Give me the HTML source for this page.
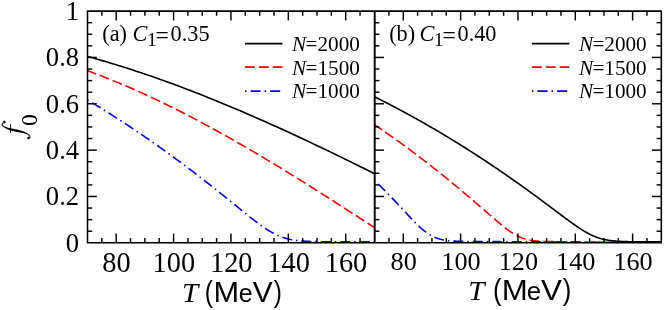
<!DOCTYPE html><html><head><meta charset="utf-8"><style>html,body{margin:0;padding:0;background:#fff;overflow:hidden}svg{display:block}</style></head><body><svg width="664" height="310" viewBox="0 0 664 310">
<rect width="664" height="310" fill="#fff"/>
<defs><clipPath id="ca"><rect x="87.5" y="11.1" width="287.2" height="232.9"/></clipPath><clipPath id="cb"><rect x="374.7" y="11.1" width="286.59999999999997" height="232.9"/></clipPath></defs>
<path d="M87.60 56.50 L92.46 57.84 L97.33 59.21 L102.19 60.61 L107.05 62.04 L111.91 63.49 L116.78 64.98 L121.64 66.49 L126.50 68.02 L131.36 69.59 L136.23 71.18 L141.09 72.80 L145.95 74.44 L150.82 76.10 L155.68 77.80 L160.54 79.51 L165.40 81.25 L170.27 83.02 L175.13 84.81 L179.99 86.62 L184.85 88.45 L189.72 90.31 L194.58 92.18 L199.44 94.08 L204.31 96.00 L209.17 97.94 L214.03 99.90 L218.89 101.89 L223.76 103.89 L228.62 105.91 L233.48 107.95 L238.34 110.00 L243.21 112.08 L248.07 114.17 L252.93 116.28 L257.79 118.41 L262.66 120.56 L267.52 122.72 L272.38 124.90 L277.25 127.09 L282.11 129.30 L286.97 131.52 L291.83 133.76 L296.70 136.01 L301.56 138.28 L306.42 140.56 L311.28 142.85 L316.15 145.16 L321.01 147.47 L325.87 149.80 L330.74 152.14 L335.60 154.50 L340.46 156.86 L345.32 159.23 L350.19 161.62 L355.05 164.01 L359.91 166.41 L364.77 168.82 L369.64 171.25 L374.50 173.67" fill="none" stroke="#000" stroke-width="1.6" clip-path="url(#ca)"/>
<path d="M87.60 70.82 L92.46 72.60 L97.33 74.42 L102.19 76.28 L107.05 78.19 L111.91 80.14 L116.78 82.12 L121.64 84.15 L126.50 86.22 L131.36 88.32 L136.23 90.46 L141.09 92.64 L145.95 94.85 L150.82 97.10 L155.68 99.39 L160.54 101.71 L165.40 104.06 L170.27 106.45 L175.13 108.87 L179.99 111.32 L184.85 113.80 L189.72 116.31 L194.58 118.85 L199.44 121.42 L204.31 124.02 L209.17 126.64 L214.03 129.30 L218.89 131.98 L223.76 134.68 L228.62 137.41 L233.48 140.16 L238.34 142.94 L243.21 145.74 L248.07 148.57 L252.93 151.41 L257.79 154.28 L262.66 157.17 L267.52 160.07 L272.38 163.00 L277.25 165.94 L282.11 168.90 L286.97 171.88 L291.83 174.88 L296.70 177.89 L301.56 180.91 L306.42 183.96 L311.28 187.01 L316.15 190.08 L321.01 193.16 L325.87 196.25 L330.74 199.35 L335.60 202.47 L340.46 205.59 L345.32 208.72 L350.19 211.86 L355.05 215.01 L359.91 218.17 L364.77 221.33 L369.64 224.50 L374.50 227.67" fill="none" stroke="#ff0000" stroke-width="1.6" clip-path="url(#ca)" stroke-dasharray="10 3.93" stroke-dashoffset="1.0"/>
<path d="M87.50 100.01 L88.70 100.73 L89.90 101.45 L91.11 102.17 L92.31 102.90 L93.51 103.62 L94.71 104.35 L95.91 105.08 L97.11 105.82 L98.32 106.55 L99.52 107.29 L100.72 108.03 L101.92 108.78 L103.12 109.52 L104.32 110.27 L105.53 111.02 L106.73 111.77 L107.93 112.52 L109.13 113.28 L110.33 114.04 L111.53 114.80 L112.74 115.56 L113.94 116.33 L115.14 117.10 L116.34 117.87 L117.54 118.64 L118.74 119.42 L119.95 120.19 L121.15 120.97 L122.35 121.75 L123.55 122.54 L124.75 123.32 L125.95 124.11 L127.16 124.90 L128.36 125.70 L129.56 126.49 L130.76 127.29 L131.96 128.09 L133.16 128.89 L134.37 129.69 L135.57 130.50 L136.77 131.31 L137.97 132.12 L139.17 132.93 L140.37 133.75 L141.58 134.57 L142.78 135.39 L143.98 136.21 L145.18 137.04 L146.38 137.86 L147.58 138.69 L148.79 139.52 L149.99 140.36 L151.19 141.19 L152.39 142.03 L153.59 142.87 L154.79 143.72 L156.00 144.56 L157.20 145.41 L158.40 146.26 L159.60 147.11 L160.80 147.97 L162.00 148.82 L163.21 149.68 L164.41 150.54 L165.61 151.41 L166.81 152.27 L168.01 153.14 L169.21 154.01 L170.42 154.88 L171.62 155.76 L172.82 156.64 L174.02 157.52 L175.22 158.40 L176.42 159.28 L177.63 160.17 L178.83 161.06 L180.03 161.95 L181.23 162.84 L182.43 163.74 L183.63 164.63 L184.84 165.53 L186.04 166.44 L187.24 167.34 L188.44 168.25 L189.64 169.15 L190.84 170.07 L192.05 170.98 L193.25 171.89 L194.45 172.81 L195.65 173.73 L196.85 174.65 L198.05 175.58 L199.26 176.51 L200.46 177.43 L201.66 178.36 L202.86 179.30 L204.06 180.23 L205.26 181.17 L206.47 182.11 L207.67 183.05 L208.87 184.00 L210.07 184.94 L211.27 185.89 L212.47 186.84 L213.68 187.79 L214.88 188.74 L216.08 189.70 L217.28 190.66 L218.48 191.62 L219.68 192.58 L220.89 193.54 L222.09 194.50 L223.29 195.47 L224.49 196.44 L225.69 197.41 L226.89 198.38 L228.10 199.35 L229.30 200.32 L230.50 201.30 L231.70 202.27 L232.90 203.25 L234.10 204.22 L235.31 205.20 L236.51 206.17 L237.71 207.15 L238.91 208.12 L240.11 209.10 L241.31 210.07 L242.52 211.05 L243.72 212.02 L244.92 212.98 L246.12 213.95 L247.32 214.91 L248.52 215.87 L249.73 216.82 L250.93 217.77 L252.13 218.72 L253.33 219.65 L254.53 220.58 L255.73 221.50 L256.94 222.41 L258.14 223.31 L259.34 224.19 L260.54 225.07 L261.74 225.93 L262.94 226.77 L264.15 227.60 L265.35 228.41 L266.55 229.20 L267.75 229.96 L268.95 230.71 L270.15 231.43 L271.36 232.13 L272.56 232.80 L273.76 233.44 L274.96 234.06 L276.16 234.64 L277.36 235.20 L278.57 235.73 L279.77 236.23 L280.97 236.70 L282.17 237.14 L283.37 237.55 L284.57 237.93 L285.78 238.29 L286.98 238.62 L288.18 238.92 L289.38 239.20 L290.58 239.46 L291.78 239.69 L292.99 239.91 L294.19 240.10 L295.39 240.28 L296.59 240.44 L297.79 240.59 L298.99 240.72 L300.20 240.84 L301.40 240.95 L302.60 241.04 L303.80 241.13 L305.00 241.21 L306.20 241.28 L307.41 241.34 L308.61 241.40 L309.81 241.45 L311.01 241.49 L312.21 241.53 L313.41 241.57 L314.62 241.60 L315.82 241.63 L317.02 241.65 L318.22 241.68 L319.42 241.70 L320.62 241.71 L321.83 241.73 L323.03 241.74 L324.23 241.76 L325.43 241.77 L326.63 241.78 L327.83 241.78 L329.04 241.79 L330.24 241.80 L331.44 241.80 L332.64 241.81 L333.84 241.81 L335.04 241.82 L336.25 241.82 L337.45 241.83 L338.65 241.83 L339.85 241.83 L341.05 241.83 L342.25 241.84 L343.46 241.84 L344.66 241.84 L345.86 241.84 L347.06 241.84 L348.26 241.84 L349.46 241.84 L350.67 241.84 L351.87 241.84 L353.07 241.85 L354.27 241.85 L355.47 241.85 L356.67 241.85 L357.88 241.85 L359.08 241.85 L360.28 241.85 L361.48 241.85 L362.68 241.85 L363.88 241.85 L365.09 241.85 L366.29 241.85 L367.49 241.85 L368.69 241.85 L369.89 241.85 L371.09 241.85 L372.30 241.85 L373.50 241.85 L374.70 241.85" fill="none" stroke="#0000ff" stroke-width="1.6" clip-path="url(#ca)" stroke-dasharray="1.5 4 10 3.96" stroke-dashoffset="0.25"/>
<path d="M374.70 124.82 L375.90 125.63 L377.10 126.45 L378.30 127.26 L379.50 128.08 L380.70 128.91 L381.89 129.73 L383.09 130.56 L384.29 131.39 L385.49 132.23 L386.69 133.07 L387.89 133.91 L389.09 134.75 L390.29 135.59 L391.49 136.44 L392.69 137.29 L393.89 138.14 L395.09 139.00 L396.28 139.86 L397.48 140.72 L398.68 141.58 L399.88 142.45 L401.08 143.32 L402.28 144.19 L403.48 145.07 L404.68 145.95 L405.88 146.83 L407.08 147.71 L408.28 148.59 L409.48 149.48 L410.67 150.37 L411.87 151.27 L413.07 152.17 L414.27 153.06 L415.47 153.97 L416.67 154.87 L417.87 155.78 L419.07 156.69 L420.27 157.60 L421.47 158.52 L422.67 159.44 L423.87 160.36 L425.06 161.28 L426.26 162.21 L427.46 163.14 L428.66 164.07 L429.86 165.00 L431.06 165.94 L432.26 166.88 L433.46 167.82 L434.66 168.77 L435.86 169.72 L437.06 170.67 L438.26 171.62 L439.45 172.58 L440.65 173.54 L441.85 174.50 L443.05 175.46 L444.25 176.43 L445.45 177.40 L446.65 178.37 L447.85 179.35 L449.05 180.33 L450.25 181.31 L451.45 182.29 L452.65 183.28 L453.84 184.27 L455.04 185.26 L456.24 186.25 L457.44 187.25 L458.64 188.25 L459.84 189.25 L461.04 190.25 L462.24 191.26 L463.44 192.27 L464.64 193.28 L465.84 194.30 L467.04 195.31 L468.23 196.33 L469.43 197.35 L470.63 198.38 L471.83 199.40 L473.03 200.43 L474.23 201.46 L475.43 202.49 L476.63 203.53 L477.83 204.57 L479.03 205.60 L480.23 206.64 L481.43 207.68 L482.62 208.72 L483.82 209.77 L485.02 210.81 L486.22 211.85 L487.42 212.90 L488.62 213.94 L489.82 214.98 L491.02 216.02 L492.22 217.06 L493.42 218.09 L494.62 219.12 L495.82 220.15 L497.01 221.17 L498.21 222.18 L499.41 223.18 L500.61 224.18 L501.81 225.16 L503.01 226.13 L504.21 227.08 L505.41 228.02 L506.61 228.94 L507.81 229.83 L509.01 230.70 L510.21 231.55 L511.40 232.36 L512.60 233.14 L513.80 233.89 L515.00 234.60 L516.20 235.28 L517.40 235.91 L518.60 236.50 L519.80 237.05 L521.00 237.56 L522.20 238.03 L523.40 238.45 L524.60 238.84 L525.79 239.19 L526.99 239.50 L528.19 239.78 L529.39 240.03 L530.59 240.25 L531.79 240.44 L532.99 240.61 L534.19 240.76 L535.39 240.89 L536.59 241.00 L537.79 241.10 L538.99 241.18 L540.18 241.25 L541.38 241.32 L542.58 241.37 L543.78 241.42 L544.98 241.46 L546.18 241.49 L547.38 241.52 L548.58 241.55 L549.78 241.57 L550.98 241.60 L552.18 241.62 L553.38 241.65 L554.57 241.67 L555.77 241.69 L556.97 241.71 L558.17 241.73 L559.37 241.74 L560.57 241.76 L561.77 241.77 L562.97 241.79 L564.17 241.80 L565.37 241.81 L566.57 241.83 L567.77 241.84 L568.96 241.85 L570.16 241.86 L571.36 241.88 L572.56 241.89 L573.76 241.90 L574.96 241.91 L576.16 241.92 L577.36 241.93 L578.56 241.94 L579.76 241.95 L580.96 241.96 L582.16 241.97 L583.35 241.98 L584.55 241.99 L585.75 242.01 L586.95 242.02 L588.15 242.03 L589.35 242.04 L590.55 242.05 L591.75 242.06 L592.95 242.07 L594.15 242.08 L595.35 242.09 L596.55 242.10 L597.74 242.11 L598.94 242.12 L600.14 242.13 L601.34 242.14 L602.54 242.15 L603.74 242.16 L604.94 242.17 L606.14 242.18 L607.34 242.19 L608.54 242.20 L609.74 242.21 L610.94 242.22 L612.13 242.23 L613.33 242.24 L614.53 242.25 L615.73 242.26 L616.93 242.27 L618.13 242.28 L619.33 242.29 L620.53 242.30 L621.73 242.30 L622.93 242.30 L624.13 242.30 L625.33 242.30 L626.52 242.30 L627.72 242.30 L628.92 242.30 L630.12 242.30 L631.32 242.30 L632.52 242.30 L633.72 242.30 L634.92 242.30 L636.12 242.30 L637.32 242.30 L638.52 242.30 L639.72 242.30 L640.91 242.30 L642.11 242.30 L643.31 242.30 L644.51 242.30 L645.71 242.30 L646.91 242.30 L648.11 242.30 L649.31 242.30 L650.51 242.30 L651.71 242.30 L652.91 242.30 L654.11 242.30 L655.30 242.30 L656.50 242.30 L657.70 242.30 L658.90 242.30 L660.10 242.30 L661.30 242.30" fill="none" stroke="#ff0000" stroke-width="1.6" clip-path="url(#cb)" stroke-dasharray="10 3.93" stroke-dashoffset="1.2"/>
<path d="M374.70 180.91 L375.90 182.01 L377.10 183.12 L378.30 184.25 L379.50 185.39 L380.70 186.54 L381.89 187.70 L383.09 188.87 L384.29 190.05 L385.49 191.25 L386.69 192.45 L387.89 193.67 L389.09 194.89 L390.29 196.12 L391.49 197.37 L392.69 198.62 L393.89 199.88 L395.09 201.15 L396.28 202.42 L397.48 203.70 L398.68 204.99 L399.88 206.28 L401.08 207.57 L402.28 208.87 L403.48 210.17 L404.68 211.47 L405.88 212.77 L407.08 214.06 L408.28 215.35 L409.48 216.63 L410.67 217.90 L411.87 219.16 L413.07 220.41 L414.27 221.64 L415.47 222.85 L416.67 224.04 L417.87 225.20 L419.07 226.34 L420.27 227.44 L421.47 228.50 L422.67 229.53 L423.87 230.52 L425.06 231.47 L426.26 232.36 L427.46 233.21 L428.66 234.01 L429.86 234.77 L431.06 235.46 L432.26 236.11 L433.46 236.71 L434.66 237.26 L435.86 237.75 L437.06 238.21 L438.26 238.61 L439.45 238.98 L440.65 239.30 L441.85 239.59 L443.05 239.85 L444.25 240.07 L445.45 240.27 L446.65 240.44 L447.85 240.60 L449.05 240.73 L450.25 240.84 L451.45 240.94 L452.65 241.03 L453.84 241.10 L455.04 241.17 L456.24 241.22 L457.44 241.27 L458.64 241.31 L459.84 241.35 L461.04 241.38 L462.24 241.40 L463.44 241.42 L464.64 241.44 L465.84 241.46 L467.04 241.47 L468.23 241.49 L469.43 241.50 L470.63 241.50 L471.83 241.51 L473.03 241.52 L474.23 241.52 L475.43 241.53 L476.63 241.53 L477.83 241.53 L479.03 241.54 L480.23 241.54 L481.43 241.55 L482.62 241.56 L483.82 241.57 L485.02 241.58 L486.22 241.58 L487.42 241.59 L488.62 241.60 L489.82 241.61 L491.02 241.62 L492.22 241.62 L493.42 241.63 L494.62 241.64 L495.82 241.65 L497.01 241.66 L498.21 241.66 L499.41 241.67 L500.61 241.68 L501.81 241.69 L503.01 241.69 L504.21 241.70 L505.41 241.71 L506.61 241.72 L507.81 241.72 L509.01 241.73 L510.21 241.74 L511.40 241.75 L512.60 241.75 L513.80 241.76 L515.00 241.77 L516.20 241.78 L517.40 241.78 L518.60 241.79 L519.80 241.80 L521.00 241.81 L522.20 241.81 L523.40 241.82 L524.60 241.83 L525.79 241.84 L526.99 241.84 L528.19 241.85 L529.39 241.86 L530.59 241.87 L531.79 241.87 L532.99 241.88 L534.19 241.89 L535.39 241.90 L536.59 241.90 L537.79 241.91 L538.99 241.92 L540.18 241.93 L541.38 241.93 L542.58 241.94 L543.78 241.95 L544.98 241.96 L546.18 241.96 L547.38 241.97 L548.58 241.98 L549.78 241.99 L550.98 241.99 L552.18 242.00 L553.38 242.01 L554.57 242.02 L555.77 242.02 L556.97 242.03 L558.17 242.04 L559.37 242.05 L560.57 242.05 L561.77 242.06 L562.97 242.07 L564.17 242.08 L565.37 242.08 L566.57 242.09 L567.77 242.10 L568.96 242.11 L570.16 242.11 L571.36 242.12 L572.56 242.13 L573.76 242.14 L574.96 242.14 L576.16 242.15 L577.36 242.16 L578.56 242.17 L579.76 242.17 L580.96 242.18 L582.16 242.19 L583.35 242.20 L584.55 242.20 L585.75 242.21 L586.95 242.22 L588.15 242.23 L589.35 242.23 L590.55 242.24 L591.75 242.25 L592.95 242.26 L594.15 242.26 L595.35 242.27 L596.55 242.28 L597.74 242.29 L598.94 242.29 L600.14 242.30 L601.34 242.30 L602.54 242.30 L603.74 242.30 L604.94 242.30 L606.14 242.30 L607.34 242.30 L608.54 242.30 L609.74 242.30 L610.94 242.30 L612.13 242.30 L613.33 242.30 L614.53 242.30 L615.73 242.30 L616.93 242.30 L618.13 242.30 L619.33 242.30 L620.53 242.30 L621.73 242.30 L622.93 242.30 L624.13 242.30 L625.33 242.30 L626.52 242.30 L627.72 242.30 L628.92 242.30 L630.12 242.30 L631.32 242.30 L632.52 242.30 L633.72 242.30 L634.92 242.30 L636.12 242.30 L637.32 242.30 L638.52 242.30 L639.72 242.30 L640.91 242.30 L642.11 242.30 L643.31 242.30 L644.51 242.30 L645.71 242.30 L646.91 242.30 L648.11 242.30 L649.31 242.30 L650.51 242.30 L651.71 242.30 L652.91 242.30 L654.11 242.30 L655.30 242.30 L656.50 242.30 L657.70 242.30 L658.90 242.30 L660.10 242.30 L661.30 242.30" fill="none" stroke="#0000ff" stroke-width="1.6" clip-path="url(#cb)" stroke-dasharray="1.5 4 10 3.96" stroke-dashoffset="1.0"/>
<path d="M374.70 96.89 L375.90 97.48 L377.10 98.08 L378.30 98.68 L379.50 99.28 L380.70 99.89 L381.89 100.50 L383.09 101.10 L384.29 101.71 L385.49 102.33 L386.69 102.94 L387.89 103.56 L389.09 104.18 L390.29 104.80 L391.49 105.42 L392.69 106.05 L393.89 106.68 L395.09 107.31 L396.28 107.94 L397.48 108.57 L398.68 109.21 L399.88 109.85 L401.08 110.49 L402.28 111.13 L403.48 111.78 L404.68 112.43 L405.88 113.07 L407.08 113.73 L408.28 114.38 L409.48 115.04 L410.67 115.69 L411.87 116.35 L413.07 117.02 L414.27 117.68 L415.47 118.35 L416.67 119.02 L417.87 119.69 L419.07 120.36 L420.27 121.04 L421.47 121.71 L422.67 122.39 L423.87 123.07 L425.06 123.76 L426.26 124.44 L427.46 125.13 L428.66 125.82 L429.86 126.51 L431.06 127.21 L432.26 127.90 L433.46 128.60 L434.66 129.30 L435.86 130.01 L437.06 130.71 L438.26 131.42 L439.45 132.13 L440.65 132.84 L441.85 133.56 L443.05 134.27 L444.25 134.99 L445.45 135.71 L446.65 136.43 L447.85 137.16 L449.05 137.88 L450.25 138.61 L451.45 139.34 L452.65 140.08 L453.84 140.81 L455.04 141.55 L456.24 142.29 L457.44 143.03 L458.64 143.77 L459.84 144.52 L461.04 145.27 L462.24 146.02 L463.44 146.77 L464.64 147.53 L465.84 148.28 L467.04 149.04 L468.23 149.80 L469.43 150.57 L470.63 151.33 L471.83 152.10 L473.03 152.87 L474.23 153.64 L475.43 154.42 L476.63 155.19 L477.83 155.97 L479.03 156.75 L480.23 157.53 L481.43 158.32 L482.62 159.10 L483.82 159.89 L485.02 160.68 L486.22 161.48 L487.42 162.27 L488.62 163.07 L489.82 163.87 L491.02 164.67 L492.22 165.48 L493.42 166.28 L494.62 167.09 L495.82 167.90 L497.01 168.71 L498.21 169.53 L499.41 170.35 L500.61 171.16 L501.81 171.99 L503.01 172.81 L504.21 173.63 L505.41 174.46 L506.61 175.29 L507.81 176.12 L509.01 176.96 L510.21 177.79 L511.40 178.63 L512.60 179.47 L513.80 180.31 L515.00 181.16 L516.20 182.01 L517.40 182.85 L518.60 183.70 L519.80 184.56 L521.00 185.41 L522.20 186.27 L523.40 187.13 L524.60 187.99 L525.79 188.85 L526.99 189.72 L528.19 190.59 L529.39 191.45 L530.59 192.33 L531.79 193.20 L532.99 194.07 L534.19 194.95 L535.39 195.83 L536.59 196.71 L537.79 197.59 L538.99 198.48 L540.18 199.36 L541.38 200.25 L542.58 201.14 L543.78 202.03 L544.98 202.92 L546.18 203.82 L547.38 204.71 L548.58 205.61 L549.78 206.50 L550.98 207.40 L552.18 208.30 L553.38 209.20 L554.57 210.10 L555.77 211.00 L556.97 211.90 L558.17 212.80 L559.37 213.70 L560.57 214.59 L561.77 215.49 L562.97 216.39 L564.17 217.28 L565.37 218.17 L566.57 219.06 L567.77 219.94 L568.96 220.82 L570.16 221.69 L571.36 222.55 L572.56 223.41 L573.76 224.27 L574.96 225.11 L576.16 225.94 L577.36 226.76 L578.56 227.57 L579.76 228.36 L580.96 229.14 L582.16 229.90 L583.35 230.64 L584.55 231.36 L585.75 232.06 L586.95 232.74 L588.15 233.39 L589.35 234.02 L590.55 234.62 L591.75 235.19 L592.95 235.74 L594.15 236.25 L595.35 236.74 L596.55 237.19 L597.74 237.62 L598.94 238.02 L600.14 238.39 L601.34 238.73 L602.54 239.04 L603.74 239.33 L604.94 239.60 L606.14 239.84 L607.34 240.06 L608.54 240.26 L609.74 240.44 L610.94 240.60 L612.13 240.74 L613.33 240.87 L614.53 240.99 L615.73 241.09 L616.93 241.19 L618.13 241.27 L619.33 241.34 L620.53 241.41 L621.73 241.47 L622.93 241.52 L624.13 241.56 L625.33 241.60 L626.52 241.64 L627.72 241.67 L628.92 241.70 L630.12 241.72 L631.32 241.75 L632.52 241.76 L633.72 241.78 L634.92 241.80 L636.12 241.81 L637.32 241.82 L638.52 241.83 L639.72 241.84 L640.91 241.85 L642.11 241.85 L643.31 241.86 L644.51 241.86 L645.71 241.87 L646.91 241.87 L648.11 241.88 L649.31 241.88 L650.51 241.88 L651.71 241.88 L652.91 241.89 L654.11 241.89 L655.30 241.89 L656.50 241.89 L657.70 241.89 L658.90 241.89 L660.10 241.89 L661.30 241.89" fill="none" stroke="#000" stroke-width="1.6" clip-path="url(#cb)"/>
<g stroke="#000" fill="none"><line x1="101.84" y1="242.80" x2="101.84" y2="238.10" stroke-width="1.45"/><line x1="101.84" y1="11.10" x2="101.84" y2="15.80" stroke-width="1.45"/><line x1="116.19" y1="242.80" x2="116.19" y2="233.50" stroke-width="1.45"/><line x1="116.19" y1="11.10" x2="116.19" y2="20.40" stroke-width="1.45"/><line x1="130.53" y1="242.80" x2="130.53" y2="238.10" stroke-width="1.45"/><line x1="130.53" y1="11.10" x2="130.53" y2="15.80" stroke-width="1.45"/><line x1="144.88" y1="242.80" x2="144.88" y2="238.10" stroke-width="1.45"/><line x1="144.88" y1="11.10" x2="144.88" y2="15.80" stroke-width="1.45"/><line x1="159.22" y1="242.80" x2="159.22" y2="238.10" stroke-width="1.45"/><line x1="159.22" y1="11.10" x2="159.22" y2="15.80" stroke-width="1.45"/><line x1="173.57" y1="242.80" x2="173.57" y2="233.50" stroke-width="1.45"/><line x1="173.57" y1="11.10" x2="173.57" y2="20.40" stroke-width="1.45"/><line x1="187.91" y1="242.80" x2="187.91" y2="238.10" stroke-width="1.45"/><line x1="187.91" y1="11.10" x2="187.91" y2="15.80" stroke-width="1.45"/><line x1="202.26" y1="242.80" x2="202.26" y2="238.10" stroke-width="1.45"/><line x1="202.26" y1="11.10" x2="202.26" y2="15.80" stroke-width="1.45"/><line x1="216.60" y1="242.80" x2="216.60" y2="238.10" stroke-width="1.45"/><line x1="216.60" y1="11.10" x2="216.60" y2="15.80" stroke-width="1.45"/><line x1="230.95" y1="242.80" x2="230.95" y2="233.50" stroke-width="1.45"/><line x1="230.95" y1="11.10" x2="230.95" y2="20.40" stroke-width="1.45"/><line x1="245.29" y1="242.80" x2="245.29" y2="238.10" stroke-width="1.45"/><line x1="245.29" y1="11.10" x2="245.29" y2="15.80" stroke-width="1.45"/><line x1="259.64" y1="242.80" x2="259.64" y2="238.10" stroke-width="1.45"/><line x1="259.64" y1="11.10" x2="259.64" y2="15.80" stroke-width="1.45"/><line x1="273.99" y1="242.80" x2="273.99" y2="238.10" stroke-width="1.45"/><line x1="273.99" y1="11.10" x2="273.99" y2="15.80" stroke-width="1.45"/><line x1="288.33" y1="242.80" x2="288.33" y2="233.50" stroke-width="1.45"/><line x1="288.33" y1="11.10" x2="288.33" y2="20.40" stroke-width="1.45"/><line x1="302.67" y1="242.80" x2="302.67" y2="238.10" stroke-width="1.45"/><line x1="302.67" y1="11.10" x2="302.67" y2="15.80" stroke-width="1.45"/><line x1="317.02" y1="242.80" x2="317.02" y2="238.10" stroke-width="1.45"/><line x1="317.02" y1="11.10" x2="317.02" y2="15.80" stroke-width="1.45"/><line x1="331.37" y1="242.80" x2="331.37" y2="238.10" stroke-width="1.45"/><line x1="331.37" y1="11.10" x2="331.37" y2="15.80" stroke-width="1.45"/><line x1="345.71" y1="242.80" x2="345.71" y2="233.50" stroke-width="1.45"/><line x1="345.71" y1="11.10" x2="345.71" y2="20.40" stroke-width="1.45"/><line x1="360.05" y1="242.80" x2="360.05" y2="238.10" stroke-width="1.45"/><line x1="360.05" y1="11.10" x2="360.05" y2="15.80" stroke-width="1.45"/><line x1="388.94" y1="242.80" x2="388.94" y2="238.10" stroke-width="1.45"/><line x1="388.94" y1="11.10" x2="388.94" y2="15.80" stroke-width="1.45"/><line x1="403.27" y1="242.80" x2="403.27" y2="233.50" stroke-width="1.45"/><line x1="403.27" y1="11.10" x2="403.27" y2="20.40" stroke-width="1.45"/><line x1="417.61" y1="242.80" x2="417.61" y2="238.10" stroke-width="1.45"/><line x1="417.61" y1="11.10" x2="417.61" y2="15.80" stroke-width="1.45"/><line x1="431.94" y1="242.80" x2="431.94" y2="238.10" stroke-width="1.45"/><line x1="431.94" y1="11.10" x2="431.94" y2="15.80" stroke-width="1.45"/><line x1="446.27" y1="242.80" x2="446.27" y2="238.10" stroke-width="1.45"/><line x1="446.27" y1="11.10" x2="446.27" y2="15.80" stroke-width="1.45"/><line x1="460.61" y1="242.80" x2="460.61" y2="233.50" stroke-width="1.45"/><line x1="460.61" y1="11.10" x2="460.61" y2="20.40" stroke-width="1.45"/><line x1="474.94" y1="242.80" x2="474.94" y2="238.10" stroke-width="1.45"/><line x1="474.94" y1="11.10" x2="474.94" y2="15.80" stroke-width="1.45"/><line x1="489.28" y1="242.80" x2="489.28" y2="238.10" stroke-width="1.45"/><line x1="489.28" y1="11.10" x2="489.28" y2="15.80" stroke-width="1.45"/><line x1="503.62" y1="242.80" x2="503.62" y2="238.10" stroke-width="1.45"/><line x1="503.62" y1="11.10" x2="503.62" y2="15.80" stroke-width="1.45"/><line x1="517.95" y1="242.80" x2="517.95" y2="233.50" stroke-width="1.45"/><line x1="517.95" y1="11.10" x2="517.95" y2="20.40" stroke-width="1.45"/><line x1="532.28" y1="242.80" x2="532.28" y2="238.10" stroke-width="1.45"/><line x1="532.28" y1="11.10" x2="532.28" y2="15.80" stroke-width="1.45"/><line x1="546.62" y1="242.80" x2="546.62" y2="238.10" stroke-width="1.45"/><line x1="546.62" y1="11.10" x2="546.62" y2="15.80" stroke-width="1.45"/><line x1="560.95" y1="242.80" x2="560.95" y2="238.10" stroke-width="1.45"/><line x1="560.95" y1="11.10" x2="560.95" y2="15.80" stroke-width="1.45"/><line x1="575.29" y1="242.80" x2="575.29" y2="233.50" stroke-width="1.45"/><line x1="575.29" y1="11.10" x2="575.29" y2="20.40" stroke-width="1.45"/><line x1="589.62" y1="242.80" x2="589.62" y2="238.10" stroke-width="1.45"/><line x1="589.62" y1="11.10" x2="589.62" y2="15.80" stroke-width="1.45"/><line x1="603.96" y1="242.80" x2="603.96" y2="238.10" stroke-width="1.45"/><line x1="603.96" y1="11.10" x2="603.96" y2="15.80" stroke-width="1.45"/><line x1="618.29" y1="242.80" x2="618.29" y2="238.10" stroke-width="1.45"/><line x1="618.29" y1="11.10" x2="618.29" y2="15.80" stroke-width="1.45"/><line x1="632.63" y1="242.80" x2="632.63" y2="233.50" stroke-width="1.45"/><line x1="632.63" y1="11.10" x2="632.63" y2="20.40" stroke-width="1.45"/><line x1="646.96" y1="242.80" x2="646.96" y2="238.10" stroke-width="1.45"/><line x1="646.96" y1="11.10" x2="646.96" y2="15.80" stroke-width="1.45"/><line x1="87.50" y1="231.22" x2="92.20" y2="231.22" stroke-width="1.45"/><line x1="374.70" y1="231.22" x2="379.40" y2="231.22" stroke-width="1.45"/><line x1="661.30" y1="231.22" x2="656.60" y2="231.22" stroke-width="1.45"/><line x1="87.50" y1="219.63" x2="92.20" y2="219.63" stroke-width="1.45"/><line x1="374.70" y1="219.63" x2="379.40" y2="219.63" stroke-width="1.45"/><line x1="661.30" y1="219.63" x2="656.60" y2="219.63" stroke-width="1.45"/><line x1="87.50" y1="208.05" x2="92.20" y2="208.05" stroke-width="1.45"/><line x1="374.70" y1="208.05" x2="379.40" y2="208.05" stroke-width="1.45"/><line x1="661.30" y1="208.05" x2="656.60" y2="208.05" stroke-width="1.45"/><line x1="87.50" y1="196.46" x2="96.80" y2="196.46" stroke-width="1.45"/><line x1="374.70" y1="196.46" x2="384.00" y2="196.46" stroke-width="1.45"/><line x1="661.30" y1="196.46" x2="652.00" y2="196.46" stroke-width="1.45"/><line x1="87.50" y1="184.88" x2="92.20" y2="184.88" stroke-width="1.45"/><line x1="374.70" y1="184.88" x2="379.40" y2="184.88" stroke-width="1.45"/><line x1="661.30" y1="184.88" x2="656.60" y2="184.88" stroke-width="1.45"/><line x1="87.50" y1="173.29" x2="92.20" y2="173.29" stroke-width="1.45"/><line x1="374.70" y1="173.29" x2="379.40" y2="173.29" stroke-width="1.45"/><line x1="661.30" y1="173.29" x2="656.60" y2="173.29" stroke-width="1.45"/><line x1="87.50" y1="161.70" x2="92.20" y2="161.70" stroke-width="1.45"/><line x1="374.70" y1="161.70" x2="379.40" y2="161.70" stroke-width="1.45"/><line x1="661.30" y1="161.70" x2="656.60" y2="161.70" stroke-width="1.45"/><line x1="87.50" y1="150.12" x2="96.80" y2="150.12" stroke-width="1.45"/><line x1="374.70" y1="150.12" x2="384.00" y2="150.12" stroke-width="1.45"/><line x1="661.30" y1="150.12" x2="652.00" y2="150.12" stroke-width="1.45"/><line x1="87.50" y1="138.53" x2="92.20" y2="138.53" stroke-width="1.45"/><line x1="374.70" y1="138.53" x2="379.40" y2="138.53" stroke-width="1.45"/><line x1="661.30" y1="138.53" x2="656.60" y2="138.53" stroke-width="1.45"/><line x1="87.50" y1="126.95" x2="92.20" y2="126.95" stroke-width="1.45"/><line x1="374.70" y1="126.95" x2="379.40" y2="126.95" stroke-width="1.45"/><line x1="661.30" y1="126.95" x2="656.60" y2="126.95" stroke-width="1.45"/><line x1="87.50" y1="115.36" x2="92.20" y2="115.36" stroke-width="1.45"/><line x1="374.70" y1="115.36" x2="379.40" y2="115.36" stroke-width="1.45"/><line x1="661.30" y1="115.36" x2="656.60" y2="115.36" stroke-width="1.45"/><line x1="87.50" y1="103.78" x2="96.80" y2="103.78" stroke-width="1.45"/><line x1="374.70" y1="103.78" x2="384.00" y2="103.78" stroke-width="1.45"/><line x1="661.30" y1="103.78" x2="652.00" y2="103.78" stroke-width="1.45"/><line x1="87.50" y1="92.19" x2="92.20" y2="92.19" stroke-width="1.45"/><line x1="374.70" y1="92.19" x2="379.40" y2="92.19" stroke-width="1.45"/><line x1="661.30" y1="92.19" x2="656.60" y2="92.19" stroke-width="1.45"/><line x1="87.50" y1="80.61" x2="92.20" y2="80.61" stroke-width="1.45"/><line x1="374.70" y1="80.61" x2="379.40" y2="80.61" stroke-width="1.45"/><line x1="661.30" y1="80.61" x2="656.60" y2="80.61" stroke-width="1.45"/><line x1="87.50" y1="69.03" x2="92.20" y2="69.03" stroke-width="1.45"/><line x1="374.70" y1="69.03" x2="379.40" y2="69.03" stroke-width="1.45"/><line x1="661.30" y1="69.03" x2="656.60" y2="69.03" stroke-width="1.45"/><line x1="87.50" y1="57.44" x2="96.80" y2="57.44" stroke-width="1.45"/><line x1="374.70" y1="57.44" x2="384.00" y2="57.44" stroke-width="1.45"/><line x1="661.30" y1="57.44" x2="652.00" y2="57.44" stroke-width="1.45"/><line x1="87.50" y1="45.85" x2="92.20" y2="45.85" stroke-width="1.45"/><line x1="374.70" y1="45.85" x2="379.40" y2="45.85" stroke-width="1.45"/><line x1="661.30" y1="45.85" x2="656.60" y2="45.85" stroke-width="1.45"/><line x1="87.50" y1="34.27" x2="92.20" y2="34.27" stroke-width="1.45"/><line x1="374.70" y1="34.27" x2="379.40" y2="34.27" stroke-width="1.45"/><line x1="661.30" y1="34.27" x2="656.60" y2="34.27" stroke-width="1.45"/><line x1="87.50" y1="22.68" x2="92.20" y2="22.68" stroke-width="1.45"/><line x1="374.70" y1="22.68" x2="379.40" y2="22.68" stroke-width="1.45"/><line x1="661.30" y1="22.68" x2="656.60" y2="22.68" stroke-width="1.45"/><rect x="87.5" y="11.1" width="573.8" height="231.70000000000002" stroke-width="1.55" stroke-linejoin="round"/><line x1="374.7" y1="11.1" x2="374.7" y2="242.8" stroke-width="1.9"/></g>
<line x1="245.0" y1="43.6" x2="282.5" y2="43.6" stroke="#000" stroke-width="1.7"/>
<line x1="245.0" y1="67.15" x2="282.5" y2="67.15" stroke="#ff0000" stroke-width="1.7" stroke-dasharray="9.8 4.1"/>
<line x1="245.0" y1="91.05" x2="282.5" y2="91.05" stroke="#0000ff" stroke-width="1.7" stroke-dasharray="1.5 4.1 10 4"/>
<line x1="531.9" y1="43.6" x2="569.4" y2="43.6" stroke="#000" stroke-width="1.7"/>
<line x1="531.9" y1="67.15" x2="569.4" y2="67.15" stroke="#ff0000" stroke-width="1.7" stroke-dasharray="9.8 4.1"/>
<line x1="531.9" y1="91.05" x2="569.4" y2="91.05" stroke="#0000ff" stroke-width="1.7" stroke-dasharray="1.5 4.1 10 4"/>
<g fill="#000" opacity="0.999"><text x="79.10" y="251.70" font-size="26.6" text-anchor="end" font-family="Liberation Serif, serif">0</text><text x="79.10" y="205.36" font-size="26.6" text-anchor="end" font-family="Liberation Serif, serif">0.2</text><text x="79.10" y="159.02" font-size="26.6" text-anchor="end" font-family="Liberation Serif, serif">0.4</text><text x="79.10" y="112.68" font-size="26.6" text-anchor="end" font-family="Liberation Serif, serif">0.6</text><text x="79.10" y="66.34" font-size="26.6" text-anchor="end" font-family="Liberation Serif, serif">0.8</text><text x="79.10" y="20.00" font-size="26.6" text-anchor="end" font-family="Liberation Serif, serif">1</text><text x="116.49" y="271.50" font-size="28.4" text-anchor="middle" font-family="Liberation Serif, serif">80</text><text x="173.87" y="271.50" font-size="28.4" text-anchor="middle" font-family="Liberation Serif, serif">100</text><text x="231.25" y="271.50" font-size="28.4" text-anchor="middle" font-family="Liberation Serif, serif">120</text><text x="288.63" y="271.50" font-size="28.4" text-anchor="middle" font-family="Liberation Serif, serif">140</text><text x="346.01" y="271.50" font-size="28.4" text-anchor="middle" font-family="Liberation Serif, serif">160</text><text x="292.00" y="50.90" font-size="21.2" font-style="italic" font-family="Liberation Serif, serif">N</text><text x="305.50" y="50.90" font-size="21.2" font-family="Liberation Serif, serif">=2000</text><text x="292.00" y="74.60" font-size="21.2" font-style="italic" font-family="Liberation Serif, serif">N</text><text x="305.50" y="74.60" font-size="21.2" font-family="Liberation Serif, serif">=1500</text><text x="292.00" y="98.30" font-size="21.2" font-style="italic" font-family="Liberation Serif, serif">N</text><text x="305.50" y="98.30" font-size="21.2" font-family="Liberation Serif, serif">=1000</text><text x="403.67" y="270.00" font-size="26.2" text-anchor="middle" font-family="Liberation Serif, serif">80</text><text x="461.01" y="270.00" font-size="26.2" text-anchor="middle" font-family="Liberation Serif, serif">100</text><text x="518.35" y="270.00" font-size="26.2" text-anchor="middle" font-family="Liberation Serif, serif">120</text><text x="575.69" y="270.00" font-size="26.2" text-anchor="middle" font-family="Liberation Serif, serif">140</text><text x="633.03" y="270.00" font-size="26.2" text-anchor="middle" font-family="Liberation Serif, serif">160</text><text x="578.90" y="50.90" font-size="21.2" font-style="italic" font-family="Liberation Serif, serif">N</text><text x="592.40" y="50.90" font-size="21.2" font-family="Liberation Serif, serif">=2000</text><text x="578.90" y="74.60" font-size="21.2" font-style="italic" font-family="Liberation Serif, serif">N</text><text x="592.40" y="74.60" font-size="21.2" font-family="Liberation Serif, serif">=1500</text><text x="578.90" y="98.30" font-size="21.2" font-style="italic" font-family="Liberation Serif, serif">N</text><text x="592.40" y="98.30" font-size="21.2" font-family="Liberation Serif, serif">=1000</text><text transform="translate(182.00,301.90) scale(0.2910,0.2810)" font-size="100" font-style="italic" font-family="Liberation Serif, serif">T</text><text transform="translate(204.78,301.77) scale(0.2452,0.2866)" font-size="100" font-family="Liberation Sans, sans-serif">(</text><text transform="translate(213.47,301.90) scale(0.3079,0.2892)" font-size="100" font-family="Liberation Sans, sans-serif">M</text><text transform="translate(238.64,302.05) scale(0.2493,0.2592)" font-size="100" font-family="Liberation Sans, sans-serif">e</text><text transform="translate(252.87,301.90) scale(0.2993,0.2892)" font-size="100" font-family="Liberation Sans, sans-serif">V</text><text transform="translate(273.66,301.77) scale(0.2452,0.2866)" font-size="100" font-family="Liberation Sans, sans-serif">)</text><text transform="translate(468.18,299.60) scale(0.2928,0.2810)" font-size="100" font-style="italic" font-family="Liberation Serif, serif">T</text><text transform="translate(493.01,299.56) scale(0.2565,0.2920)" font-size="100" font-family="Liberation Sans, sans-serif">(</text><text transform="translate(501.64,299.70) scale(0.3124,0.2965)" font-size="100" font-family="Liberation Sans, sans-serif">M</text><text transform="translate(526.80,299.84) scale(0.2579,0.2647)" font-size="100" font-family="Liberation Sans, sans-serif">e</text><text transform="translate(541.06,299.70) scale(0.3145,0.2965)" font-size="100" font-family="Liberation Sans, sans-serif">V</text><text transform="translate(562.75,299.56) scale(0.2565,0.2920)" font-size="100" font-family="Liberation Sans, sans-serif">)</text><text x="102.30" y="41.20" font-size="22.3" font-family="Liberation Serif, serif">(a)</text><text x="132.60" y="41.20" font-size="22.3" font-style="italic" font-family="Liberation Serif, serif">C</text><text x="146.90" y="45.60" font-size="19.8" font-family="Liberation Serif, serif">1</text><text transform="translate(155.62,43.60) scale(0.2364,0.2560)" font-size="100" font-family="Liberation Serif, serif">=</text><text x="170.60" y="41.20" font-size="22.3" font-family="Liberation Serif, serif">0.35</text><text x="389.20" y="41.20" font-size="22.3" font-family="Liberation Serif, serif">(b)</text><text x="419.50" y="41.20" font-size="22.3" font-style="italic" font-family="Liberation Serif, serif">C</text><text x="433.80" y="45.60" font-size="19.8" font-family="Liberation Serif, serif">1</text><text transform="translate(442.52,43.60) scale(0.2364,0.2560)" font-size="100" font-family="Liberation Serif, serif">=</text><text x="457.50" y="41.20" font-size="22.3" font-family="Liberation Serif, serif">0.40</text><text transform="translate(36.57,126.00) rotate(-90) scale(0.2359,0.2312)" font-size="100" font-family="Liberation Serif, serif">0</text><path d="M3.63 122.40 L2.96 122.48 L2.41 122.79 L2.00 123.24 L1.75 123.77 L1.65 124.36 L1.72 124.95 L1.93 125.48 L2.23 125.94 L2.60 126.32 L3.00 126.63 L3.40 126.91 L3.78 127.17 L4.17 127.42 L4.56 127.67 L4.95 127.91 L5.34 128.15 L5.74 128.38 L6.14 128.61 L6.55 128.83 L6.96 129.04 L7.38 129.24 L7.81 129.43 L8.24 129.61 L8.67 129.78 L9.11 129.94 L9.54 130.10 L9.98 130.24 L10.42 130.38 L10.86 130.51 L11.30 130.64 L11.74 130.76 L12.18 130.88 L12.61 131.00 L13.05 131.11 L13.48 131.22 L13.92 131.33 L14.35 131.43 L14.79 131.54 L15.23 131.64 L15.66 131.73 L16.10 131.83 L16.54 131.92 L16.98 132.00 L17.42 132.09 L17.86 132.17 L18.30 132.25 L18.75 132.33 L19.19 132.40 L19.63 132.48 L20.06 132.55 L20.50 132.62 L20.93 132.70 L21.37 132.77 L21.80 132.85 L22.23 132.94 L22.65 133.02 L23.08 133.12 L23.50 133.22 L23.92 133.32 L24.33 133.44 L24.75 133.56 L25.16 133.70 L25.57 133.84 L25.97 134.00 L26.37 134.16 L26.76 134.34 L27.15 134.54 L27.53 134.75 L27.90 134.98 L28.24 135.22 L28.56 135.49 L28.85 135.77 L29.09 136.08 L29.30 136.41 L29.45 136.77 L29.52 137.10 L29.50 137.34 L29.41 137.48 L29.15 137.62 L29.45 138.58 L30.10 138.21 L30.46 137.63 L30.52 137.02 L30.40 136.45 L30.18 135.95 L29.91 135.50 L29.59 135.10 L29.23 134.75 L28.86 134.44 L28.48 134.15 L28.10 133.87 L27.72 133.60 L27.33 133.34 L26.94 133.09 L26.54 132.85 L26.13 132.62 L25.72 132.40 L25.30 132.19 L24.88 131.99 L24.45 131.80 L24.03 131.61 L23.60 131.44 L23.16 131.28 L22.73 131.12 L22.29 130.97 L21.85 130.83 L21.42 130.69 L20.98 130.56 L20.54 130.43 L20.10 130.31 L19.66 130.19 L19.23 130.08 L18.79 129.97 L18.36 129.86 L17.93 129.75 L17.49 129.65 L17.06 129.55 L16.62 129.45 L16.19 129.35 L15.75 129.25 L15.32 129.16 L14.88 129.07 L14.44 128.98 L14.00 128.89 L13.56 128.80 L13.12 128.72 L12.68 128.64 L12.24 128.56 L11.80 128.48 L11.37 128.40 L10.93 128.32 L10.50 128.24 L10.07 128.16 L9.65 128.07 L9.22 127.98 L8.80 127.88 L8.39 127.77 L7.98 127.66 L7.57 127.54 L7.16 127.40 L6.75 127.26 L6.35 127.11 L5.94 126.95 L5.54 126.78 L5.14 126.60 L4.74 126.41 L4.33 126.21 L3.94 126.01 L3.57 125.80 L3.26 125.57 L3.01 125.31 L2.81 125.01 L2.68 124.70 L2.65 124.39 L2.70 124.07 L2.84 123.79 L3.04 123.57 L3.28 123.43 L3.57 123.40Z"/><circle cx="4.35" cy="122.0" r="1.25"/><circle cx="28.5" cy="138.0" r="1.25"/><rect x="10.1" y="124.0" width="0.9" height="8.8"/></g>
</svg></body></html>
